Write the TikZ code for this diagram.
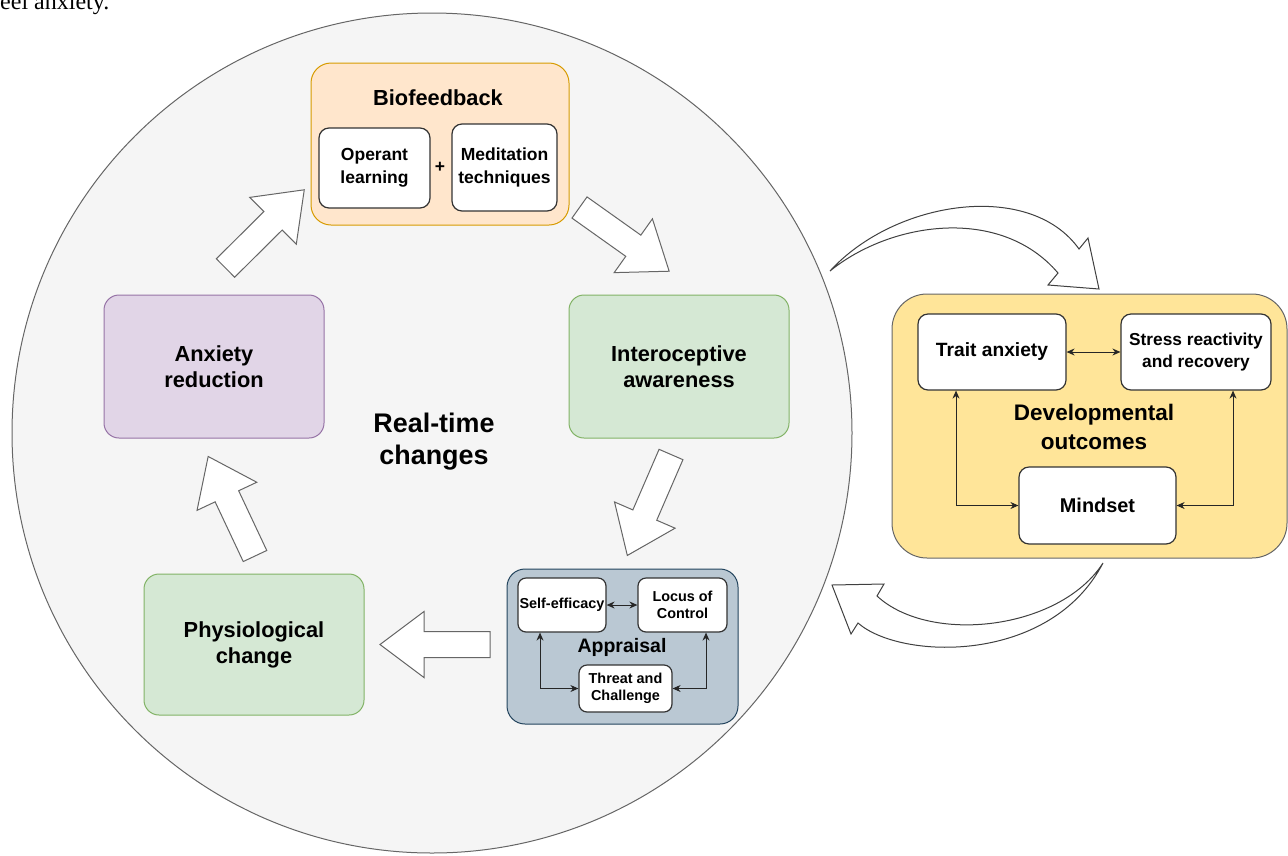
\documentclass[tikz,border=0pt]{standalone}
\usepackage{fontspec}
\setmainfont{Liberation Sans}
\newfontfamily\bodyserif{Liberation Serif}
\usepackage{tikz}
\usetikzlibrary{arrows.meta,calc,positioning}
\definecolor{circFill}{HTML}{F5F5F5}
\definecolor{circLine}{HTML}{666666}
\definecolor{bioFill}{HTML}{FFE6CC}
\definecolor{bioLine}{HTML}{D79B00}
\definecolor{greenFill}{HTML}{D5E8D4}
\definecolor{greenLine}{HTML}{82B366}
\definecolor{purpleFill}{HTML}{E1D5E7}
\definecolor{purpleLine}{HTML}{9673A6}
\definecolor{apprFill}{HTML}{BAC8D3}
\definecolor{apprLine}{HTML}{23445D}
\definecolor{devFill}{HTML}{FFE599}
\definecolor{devLine}{HTML}{666666}
\tikzset{
  stage/.style={draw, line width=1pt, rounded corners=15pt, minimum width=220pt,
    minimum height=143pt, inner sep=0pt, align=center,
    font=\fontsize{21.8pt}{26pt}\selectfont\bfseries},
  frame/.style={draw, line width=1pt, inner sep=0pt},
  itembox/.style={draw=black!80, fill=white, line width=1.2pt, rounded corners=10pt,
    inner sep=0pt, align=center},
  bioItem/.style={itembox, font=\fontsize{17.5pt}{23pt}\selectfont\bfseries},
  apprItem/.style={itembox, rounded corners=8pt, font=\fontsize{14.4pt}{17pt}\selectfont\bfseries},
  devItem/.style={itembox, font=\fontsize{17.3pt}{22pt}\selectfont\bfseries},
  heading/.style={inner sep=0pt, align=center},
  link/.style={{Stealth[length=8pt,width=7pt]}-{Stealth[length=8pt,width=7pt]},
    line width=0.9pt, draw=black!85},
  fatarrow/.style={draw=black!60, fill=white, line width=1pt},
  bentarrow/.style={draw=black!75, fill=white, line width=1pt}
}
% block arrow: #1=tail centre, #2=angle, #3=length
\newcommand{\FatArrow}[3]{%
  \begin{scope}[shift={(#1)}, rotate=#2]
    \draw[fatarrow] (0,-13) -- ({#3-44},-13) -- ({#3-44},-33) -- (#3,0)
      -- ({#3-44},33) -- ({#3-44},13) -- (0,13) -- cycle;
  \end{scope}%
}

\begin{document}
\begin{tikzpicture}[x=1pt, y=-1pt]
  \useasboundingbox (0,0) rectangle (1288,855);
  % cropped line of the surrounding text
  \node[anchor=base west, inner sep=0pt, font=\bodyserif\fontsize{24pt}{28pt}\selectfont]
    (cut) at (-8,9) {feel anxiety.};

  % real-time cycle
  \draw[fill=circFill, draw=circLine, line width=1pt] (432,433) circle [radius=420pt];
  \node[heading, font=\fontsize{26.9pt}{32pt}\selectfont\bfseries] (rt) at (434,442)
    {Real-time\\changes};

  \node[stage, fill=bioFill, draw=bioLine, minimum width=258pt, minimum height=162pt,
    rounded corners=20pt] (bio) at (440,144) {};
  \node[heading, font=\fontsize{21.8pt}{26pt}\selectfont\bfseries] (bioT) at (438,98) {Biofeedback};
  \node[bioItem, minimum width=111pt, minimum height=80pt] (oper) at (374.5,168) {Operant\\learning};
  \node[bioItem, minimum width=105pt, minimum height=87pt] (medi) at (504.5,167.5) {Meditation\\techniques};
  \node[heading, font=\fontsize{17.5pt}{20pt}\selectfont\bfseries] (plus) at (440,167) {+};

  \node[stage, fill=greenFill, draw=greenLine] (intero) at (679,366.5) {Interoceptive\\awareness};
  \node[stage, fill=purpleFill, draw=purpleLine] (anx) at (214,366.5) {Anxiety\\reduction};
  \node[stage, fill=greenFill, draw=greenLine, minimum height=141pt] (phys) at (254,644.5)
    {Physiological\\change};

  \node[frame, fill=apprFill, draw=apprLine, rounded corners=18pt, minimum width=231pt,
    minimum height=155pt] (appr) at (622.5,646.5) {};
  \node[heading, font=\fontsize{19.5pt}{23pt}\selectfont\bfseries] (apprT) at (622,647) {Appraisal};
  \node[apprItem, minimum width=88pt, minimum height=54pt] (self) at (562,605) {Self-efficacy};
  \node[apprItem, minimum width=89pt, minimum height=54pt] (locus) at (682.5,605) {Locus of\\Control};
  \node[apprItem, minimum width=93pt, minimum height=47pt] (threat) at (625.5,688.5) {Threat and\\Challenge};
  \draw[link] (self) -- (locus);
  \draw[link] ([xshift=-22pt]self.south) |- (threat);
  \draw[link] ([xshift=23.5pt]locus.south) |- (threat);

  % block arrows round the cycle
  \FatArrow{225.5,268}{44.8}{111}
  \FatArrow{579.5,207.5}{-35.4}{110}
  \FatArrow{671,454.5}{-113.4}{110}
  \FatArrow{490,644.5}{180}{110}
  \FatArrow{255,556}{115.2}{110}

  % developmental outcomes
  \node[frame, fill=devFill, draw=devLine, rounded corners=35pt, minimum width=395pt,
    minimum height=264pt] (dev) at (1089.5,426) {};
  \node[heading, font=\fontsize{22.5pt}{29pt}\selectfont\bfseries] (devT) at (1094,427)
    {Developmental\\outcomes};
  \node[devItem, minimum width=148pt, minimum height=76pt,
    font=\fontsize{19.2pt}{22pt}\selectfont\bfseries] (trait) at (992,352) {Trait anxiety};
  \node[devItem, minimum width=150pt, minimum height=76pt] (stress) at (1196,352)
    {Stress reactivity\\and recovery};
  \node[devItem, minimum width=157pt, minimum height=77pt,
    font=\fontsize{19.9pt}{22pt}\selectfont\bfseries] (mind) at (1097.5,505.5) {Mindset};
  \draw[link] (trait) -- (stress);
  \draw[link] ([xshift=-36pt]trait.south) |- (mind);
  \draw[link] ([xshift=37pt]stress.south) |- (mind);

  % curved arrows between the two parts
  \draw[bentarrow] (830,271) .. controls (895,200) and (1030,180) .. (1079,249)
    -- (1088,238) -- (1099,289) -- (1048,285) -- (1058,273)
    .. controls (1000,205) and (890,222) .. (830,271) -- cycle;
  \draw[bentarrow] (1103,563) .. controls (1050,665) and (900,660) .. (858,623)
    -- (851,634) -- (832,585) -- (884,584) -- (877,596)
    .. controls (930,645) and (1060,630) .. (1103,563) -- cycle;
\end{tikzpicture}
\end{document}
